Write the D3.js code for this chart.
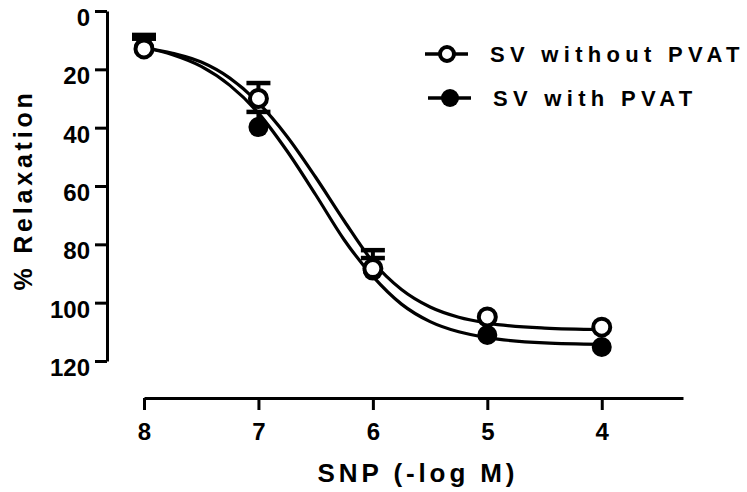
<!DOCTYPE html>
<html>
<head>
<meta charset="utf-8">
<script src="https://cdn.jsdelivr.net/npm/d3@7"></script>
<style>
  body { margin: 0; background: #fff; }
  text { font-family: "Liberation Sans", Arial, sans-serif; font-weight: bold; fill: #000; }
</style>
</head>
<body>
<div id="chart"></div>
<script>
// SNP concentrations (-log M)
var doses = [8, 7, 6, 5, 4];
var xTicks = [8, 7, 6, 5, 4];
var yTicks = [0, 20, 40, 60, 80, 100, 120];

// SV without PVAT (open circles)
var withoutMean = [13, 30, 88.3, 104.9, 108.4];
var withoutSem = [4.8, 5.3, 6.3, 0, 0];
// SV with PVAT (filled circles)
var withMean = [12.5, 39.8, 89, 111.1, 115.2];
var withSem = [3, 5.2, 4.3, 0, 0];

// fitted curves
var curveX = [8, 7.75, 7.5, 7.25, 7, 6.75, 6.5, 6.25, 6, 5.75, 5.5, 5.25, 5, 4.5, 4];
var withoutCurve = [12.5, 14.5, 17.5, 23, 31.5, 43, 57, 72, 86, 95.5, 101.5, 105, 107, 108.7, 109.2];
var withCurve = [12.5, 15, 19, 25.5, 35, 48, 63, 78.5, 91, 100.5, 106.5, 110, 112, 113.8, 114.3];

var legendNames = ["SV without PVAT", "SV with PVAT"];

var width = 747, height = 492;
var svg = d3.select("#chart").append("svg")
    .attr("width", width).attr("height", height);

var x = d3.scaleLinear().domain([8, 3.29]).range([144, 683]);
var y = d3.scaleLinear().domain([0, 120]).range([11, 361]);

// axes
var xAxis = svg.append("g")
    .attr("transform", "translate(0,398)")
    .call(d3.axisBottom(x).tickValues(xTicks).tickSize(12).tickSizeOuter(0).tickPadding(13)
      .tickFormat(d3.format("d")));
var yAxis = svg.append("g")
    .attr("transform", "translate(107,0)")
    .call(d3.axisLeft(y).tickValues(yTicks).tickSize(12).tickSizeOuter(0).tickPadding(5));

[xAxis, yAxis].forEach(function(g) {
  g.select(".domain").attr("stroke-width", 3);
  g.selectAll(".tick line").attr("stroke-width", 3);
  g.selectAll(".tick text").style("font-size", "24px");
});
yAxis.selectAll(".tick text").attr("dy", "0.6em");

svg.append("text")
    .attr("x", 418).attr("y", 482)
    .attr("text-anchor", "middle")
    .style("font-size", "26px").style("letter-spacing", "3.9px")
    .text("SNP (-log M)");

svg.append("text")
    .attr("transform", "translate(32,190) rotate(-90)")
    .attr("text-anchor", "middle")
    .style("font-size", "25px").style("letter-spacing", "3.8px")
    .text("% Relaxation");

// curves
var line = d3.line()
    .x(function(d) { return x(d[0]); })
    .y(function(d) { return y(d[1]); })
    .curve(d3.curveMonotoneX);

[withCurve, withoutCurve].forEach(function(c) {
  svg.append("path")
      .datum(curveX.map(function(v, i) { return [v, c[i]]; }))
      .attr("d", line)
      .attr("fill", "none")
      .attr("stroke", "#000")
      .attr("stroke-width", 3.2);
});

function drawSeries(means, sems, open) {
  var g = svg.append("g");
  doses.forEach(function(d, i) {
    if (sems[i] > 0) {
      var top = y(means[i] - sems[i]);
      g.append("line")
          .attr("x1", x(d)).attr("x2", x(d))
          .attr("y1", y(means[i])).attr("y2", top)
          .attr("stroke", "#000").attr("stroke-width", 4);
      g.append("line")
          .attr("x1", x(d) - 12).attr("x2", x(d) + 12)
          .attr("y1", top).attr("y2", top)
          .attr("stroke", "#000").attr("stroke-width", 4.5);
    }
  });
  g.selectAll("circle")
    .data(doses)
    .enter().append("circle")
      .attr("cx", function(d) { return x(d); })
      .attr("cy", function(d, i) { return y(means[i]); })
      .attr("r", open ? 8.5 : 10)
      .attr("fill", open ? "#fff" : "#000")
      .attr("stroke", "#000")
      .attr("stroke-width", open ? 4 : 0);
}

drawSeries(withMean, withSem, false);
drawSeries(withoutMean, withoutSem, true);

// legend
var legend = svg.append("g");
legendNames.forEach(function(name, i) {
  var ly = 54 + i * 44;
  var lx = 425 + i * 3;
  legend.append("line")
      .attr("x1", lx).attr("x2", lx + 43)
      .attr("y1", ly).attr("y2", ly)
      .attr("stroke", "#000").attr("stroke-width", 3.5);
  legend.append("circle")
      .attr("cx", lx + 22).attr("cy", ly)
      .attr("r", i === 0 ? 7 : 9)
      .attr("fill", i === 0 ? "#fff" : "#000")
      .attr("stroke", "#000")
      .attr("stroke-width", i === 0 ? 4 : 0);
  legend.append("text")
      .attr("x", 490 + i * 3).attr("y", ly + 8)
      .style("font-size", "22px").style("letter-spacing", "5.3px")
      .text(name);
});
</script>
</body>
</html>
